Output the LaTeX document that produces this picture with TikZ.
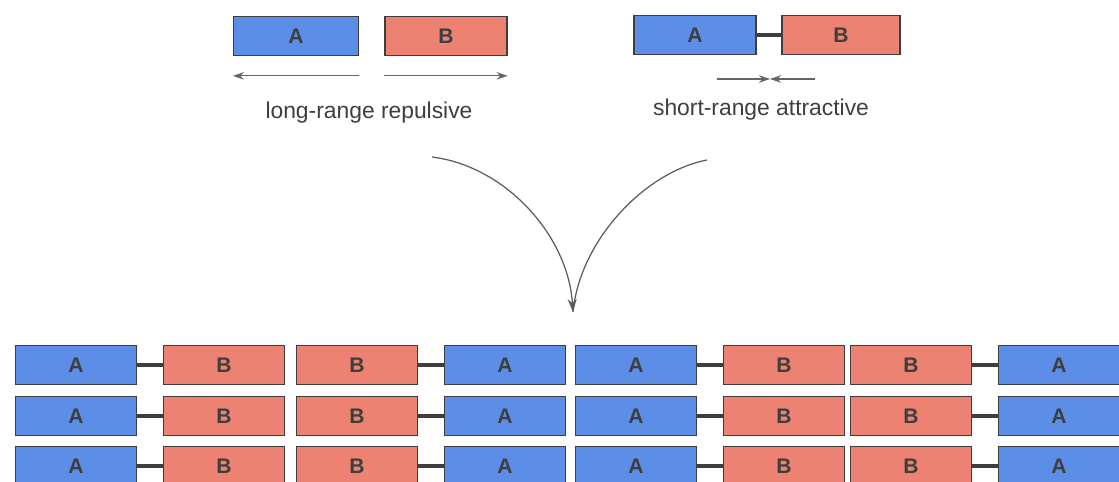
\documentclass[tikz,border=0pt]{standalone}
\usepackage{fontspec}
\setmainfont{Liberation Sans}
\usetikzlibrary{arrows.meta}

\definecolor{blockA}{RGB}{92,142,232}
\definecolor{blockB}{RGB}{238,130,114}
\definecolor{ink}{RGB}{62,62,62}

\tikzset{
  block/.style={draw=ink,line width=0.7pt,minimum width=2.42cm,minimum height=0.77cm,
                inner sep=0pt,text=ink,font=\fontsize{12}{12}\selectfont\bfseries},
  blockA/.style={block,fill=blockA},
  blockB/.style={block,fill=blockB},
  bond/.style={ink,line width=2.6pt},
  force/.style={ink!80,line width=0.6pt,-{Stealth[length=2.2mm,width=1.5mm]}},
  flow/.style={ink!85,line width=0.7pt},
  caption/.style={text=ink,font=\fontsize{13}{15}\selectfont}
}

\begin{document}
\begin{tikzpicture}[x=0.02cm,y=-0.02cm]
\useasboundingbox (0,0) rectangle (1119,482);

% separate blocks
\node[blockA,minimum width=2.5cm] (freeA) at (296,36) {A};
\node[blockB,minimum width=2.44cm] (freeB) at (446,36) {B};
\draw[force] ([yshift=-0.4cm]freeA.south east) -- ([yshift=-0.4cm]freeA.south west);
\draw[force] ([yshift=-0.4cm]freeB.south west) -- ([yshift=-0.4cm]freeB.south east);
\node[caption] (repel) at (369,113) {long-range repulsive};

% bonded pair
\node[blockA,minimum width=2.44cm] (pairA) at (695,35) {A};
\node[blockB,minimum width=2.36cm] (pairB) at (841,35) {B};
\draw[bond] (pairA) -- (pairB);
\coordinate (pull) at (770,79);
\draw[force] (717,79) -- (pull);
\draw[force] (815,79) -- (pull);
\node[caption] (attract) at (761,110) {short-range attractive};

% both lead to the lamellae
\coordinate (repelEnd) at (432,157);
\coordinate (attractEnd) at (707,160);
\coordinate (merge) at (573,312);
\draw[flow,-{Stealth[length=2.6mm,width=1.8mm]}] (repelEnd) .. controls (505,166) and (568,235) .. (merge);
\draw[flow] (attractEnd) .. controls (645,172) and (580,240) .. (merge);

% stacked rows
\foreach \row/\y in {1/365,2/416,3/466}
  \foreach \s/\l/\r [count=\k] in {15/A/B,296/B/A,575/A/B,850/B/A} {
    \node[block\l] (m\k-\row-l) at (\s+61,\y) {\l};
    \node[block\r] (m\k-\row-r) at (\s+209,\y) {\r};
    \draw[bond] (m\k-\row-l) -- (m\k-\row-r);
  }
\end{tikzpicture}
\end{document}
